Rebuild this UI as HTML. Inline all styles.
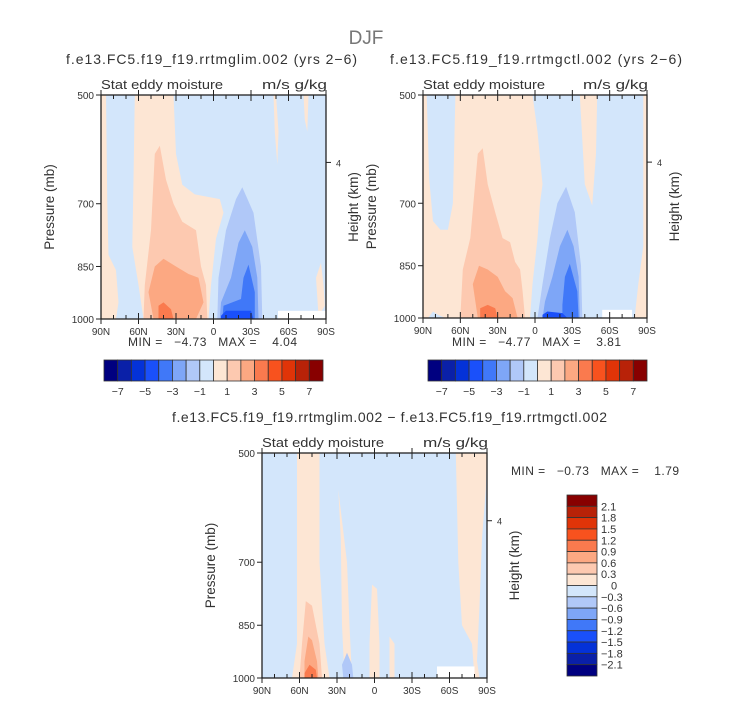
<!DOCTYPE html>
<html><head><meta charset="utf-8"><style>
html,body{margin:0;padding:0;background:#fff;}
svg{display:block;font-family:"Liberation Sans",sans-serif;}
text{fill:#333;white-space:pre;}
</style></head><body>
<svg id="fig" width="733" height="702" viewBox="0 0 733 702" xmlns="http://www.w3.org/2000/svg">
<text x="366" y="44" font-size="19" text-anchor="middle" style="fill:#777">DJF</text>
</svg>
<script>
// ---- data ----
const colors = ["#000080","#0a20a8","#0432d8","#1a50fa","#4078f8","#7ea6f7","#b0c8f8","#d3e6fb","#fde6d4","#fdc9b0","#fca882","#fa7a4e","#f8521e","#e03408","#b82208","#880000"];
const latTicks = [90,60,30,0,-30,-60,-90];
const latLabels = ["90N","60N","30N","0","30S","60S","90S"];
const pTicks = [500,700,850,1000];
const cbLabelsAB = ["\u22127","\u22125","\u22123","\u22121","1","3","5","7"];
const cbLabelsC = ["2.1","1.8","1.5","1.2","0.9","0.6","0.3","0","\u22120.3","\u22120.6","\u22120.9","\u22121.2","\u22121.5","\u22121.8","\u22122.1"];
// shapes: [colorIndex, [[lat,p],...]] ; background index 7
const shapesA = [
 [8,[[90,500],[86,500],[85,700],[84,820],[78,860],[76,950],[78,1000],[90,1000]]],
 [8,[[63,500],[32,500],[30,600],[25,660],[15,680],[-5,690],[-8,720],[-2,780],[2,900],[4,1000],[56,1000],[60,900],[65,800],[64,650]]],
 [8,[[-48,500],[-50,500],[-52,560],[-51,620],[-49,560]]],
 [8,[[-72,500],[-76,500],[-75,560],[-73,540]]],
 [8,[[-82,880],[-86,840],[-88,900],[-89,960],[-84,990]]],
 [9,[[47,600],[43,585],[38,650],[32,700],[25,740],[14,760],[10,850],[6,900],[5,1000],[56,1000],[55,900],[50,760]]],
 [10,[[48,1000],[52,920],[47,850],[40,830],[30,850],[20,870],[12,880],[8,950],[14,1000]]],
 [11,[[44,1000],[44,960],[40,950],[34,970],[32,1000]]],
 [6,[[-23,665],[-18,690],[-10,760],[-4,880],[-3,1000],[-39,1000],[-38,850],[-32,720]]],
 [5,[[-25,760],[-20,790],[-14,880],[-6,950],[-5,1000],[-36,1000],[-35,880],[-31,800]]],
 [4,[[-28,845],[-24,880],[-22,940],[-8,960],[-7,1000],[-33,1000],[-33,920]]],
 [3,[[-10,975],[-6,990],[-6,1000],[-32,1000],[-30,975]]]
];
const shapesB = [
 [8,[[90,500],[87,500],[85,650],[82,740],[76,760],[70,760],[66,700],[64,500],[2,500],[-2,560],[-6,660],[-4,700],[-2,780],[2,900],[4,1000],[90,1000]]],
 [8,[[-36,500],[-50,500],[-49,600],[-46,705],[-40,660]]],
 [8,[[-87,500],[-90,500],[-90,1000],[-80,1000],[-83,900],[-87,800]]],
 [7,[[82,980],[78,990],[72,1000],[86,1000]]],
 [9,[[46,600],[42,590],[38,660],[32,720],[26,780],[20,790],[16,840],[12,860],[10,920],[8,1000],[60,1000],[58,860],[52,780]]],
 [10,[[46,1000],[50,900],[45,850],[38,860],[30,880],[24,920],[18,940],[14,1000]]],
 [11,[[44,1000],[44,970],[38,960],[32,970],[30,1000]]],
 [6,[[-25,665],[-18,700],[-12,780],[-6,900],[-2,1000],[-38,1000],[-37,850],[-32,720]]],
 [5,[[-26,760],[-20,800],[-14,880],[-8,950],[-6,1000],[-36,1000],[-35,880],[-31,800]]],
 [4,[[-28,845],[-24,880],[-22,960],[-22,1000],[-35,1000],[-34,920]]],
 [3,[[-10,980],[-6,990],[-6,1000],[-26,1000],[-22,985]]]
];
const shapesC = [
 [8,[[62,500],[44,500],[44,700],[40,900],[36,1000],[66,1000],[62,900]]],
 [8,[[29,560],[27,650],[26,850],[24,1000],[18,1000],[20,850],[22,700]]],
 [8,[[2,750],[-2,760],[-4,900],[-4,1000],[4,1000],[4,900]]],
 [8,[[-12,880],[-16,900],[-16,1000],[-12,1000]]],
 [8,[[-65,500],[-90,500],[-89,560],[-86,650],[-84,800],[-82,950],[-84,1000],[-80,1000],[-78,900],[-70,850],[-67,700]]],
 [9,[[55,789],[50,800],[44,900],[42,1000],[60,1000],[58,900]]],
 [10,[[53,880],[50,890],[46,950],[45,1000],[56,1000],[56,950]]],
 [11,[[52,960],[47,975],[46,1000],[56,1000],[56,985]]],
 [6,[[22,925],[26,960],[25,1000],[17,1000],[18,960]]]
];
const mm = ["MIN =   \u22124.73   MAX =    4.04","MIN =   \u22124.77   MAX =    3.81","MIN =   \u22120.73   MAX =    1.79"];
// ---- drawing ----
const NS="http://www.w3.org/2000/svg";
const svg=document.getElementById('fig');
function mk(tag,attrs,parent){const e=document.createElementNS(NS,tag);for(const k in attrs)e.setAttribute(k,attrs[k]);(parent||svg).appendChild(e);return e;}
function panel(x0,y0,w,h,shapes,title,tag,whiteBox,titleX,titleW){
  const g=mk('g',{});
  
  
  const X=lat=>x0+(90-lat)/180*w;
  const Y=p=>y0+Math.log(p/500)/Math.log(2)*h;
  const bg=mk('rect',{x:x0,y:y0,width:w,height:h,fill:colors[7]},g);
  
  
  shapes.forEach(s=>{
    const pts=s[1].map(q=>X(q[0]).toFixed(1)+','+Y(q[1]).toFixed(1)).join(' ');
    const pl=mk('polygon',{points:pts,fill:colors[s[0]]},g);
    
    
  });
  const wb=mk('rect',{x:X(whiteBox[0]),y:Y(whiteBox[1]),width:X(whiteBox[2])-X(whiteBox[0]),height:y0+h-Y(whiteBox[1]),fill:'#fff'},g);
  
  
  mk('rect',{x:x0,y:y0,width:w,height:h,fill:'none',stroke:'#222','stroke-width':1.3},g);
  for(let lat=90;lat>=-90;lat-=10){
    const major=lat%30===0;const x=X(lat);
    mk('line',{x1:x,x2:x,y1:y0+h,y2:y0+h-(major?6:4),stroke:'#222'},g);
    mk('line',{x1:x,x2:x,y1:y0,y2:y0+(major?6:4),stroke:'#222'},g);
    if(major){mk('line',{x1:x,x2:x,y1:y0+h,y2:y0+h+5,stroke:'#222'},g);mk('line',{x1:x,x2:x,y1:y0,y2:y0-5,stroke:'#222'},g);}
  }
  latTicks.forEach((l,i)=>{const t=mk('text',{x:X(l),y:y0+h+16,'font-size':10,'text-anchor':'middle'},g);t.textContent=latLabels[i];
    
    });
  pTicks.forEach(p=>{const y=Y(p);mk('line',{x1:x0-5,x2:x0,y1:y,y2:y,stroke:'#222'},g);
    const t=mk('text',{x:x0-7,y:y+4,'font-size':10,'text-anchor':'end'},g);t.textContent=p;
    
    });
  const y4=Y(616);mk('line',{x1:x0+w,x2:x0+w+5,y1:y4,y2:y4,stroke:'#222'},g);
  const t4=mk('text',{x:x0+w+10,y:y4+4,'font-size':9},g);t4.textContent='4';
  const yl=mk('text',{transform:`translate(${x0-47},${y0+h/2}) rotate(-90)`,'font-size':13.5,'text-anchor':'middle'},g);yl.textContent='Pressure (mb)';
  
  
  const yr=mk('text',{transform:`translate(${x0+w+32},${y0+h/2}) rotate(-90)`,'font-size':13.5,'text-anchor':'middle'},g);yr.textContent='Height (km)';
  
  
  const st=mk('text',{x:x0,y:y0-6,'font-size':13,textLength:122,lengthAdjust:'spacingAndGlyphs'},g);st.textContent='Stat eddy moisture';
  
  
  const un=mk('text',{x:x0+w-64,y:y0-6,'font-size':13,textLength:65,lengthAdjust:'spacingAndGlyphs'},g);un.textContent='m/s g/kg';
  
  
  const tt=mk('text',{x:titleX,y:y0-31,'font-size':14,textLength:titleW,lengthAdjust:'spacing'},g);tt.textContent=title;
  
  
}
function hbar(x0,y0,w,h,mmText,mmx){
  const g=mk('g',{});
  
  
  const bw=w/16;
  colors.forEach((c,i)=>mk('rect',{x:x0+i*bw,y:y0,width:bw,height:h,fill:c,stroke:'#333','stroke-width':0.8},g));
  cbLabelsAB.forEach((l,i)=>{const t=mk('text',{x:x0+(2*i+1)*bw,y:y0+h+14,'font-size':10.5,'text-anchor':'middle'},g);t.textContent=l;});
  const m=mk('text',{x:mmx,y:y0-14,'font-size':12,textLength:169,lengthAdjust:'spacing'},g);m.textContent=mmText;
  
  
}
panel(101,95,225,224,shapesA,'f.e13.FC5.f19_f19.rrtmglim.002 (yrs 2\u22126)','lim',[-51.6,975,-90],66,291);
panel(423,95,224,223,shapesB,'f.e13.FC5.f19_f19.rrtmgctl.002 (yrs 2\u22126)','ctl',[-54,975,-78],390,292);
panel(262,453,225,225,shapesC,'f.e13.FC5.f19_f19.rrtmglim.002 \u2212 f.e13.FC5.f19_f19.rrtmgctl.002','diff',[-50,965,-80],172,435);
hbar(104,360,219,21,mm[0],128);
hbar(428,360,219,21,mm[1],452);
// vertical colorbar
(function(){
  const g=mk('g',{});
  
  
  const x0=567,y0=495,w=30,h=181,bh=h/16;
  colors.slice().reverse().forEach((c,i)=>mk('rect',{x:x0,y:y0+i*bh,width:w,height:bh,fill:c,stroke:'#333','stroke-width':0.8},g));
  cbLabelsC.forEach((l,i)=>{const t=mk('text',{x:x0+w+(l==="0"?14:4),y:y0+(i+1)*bh+4,'font-size':11},g);t.textContent=l;});
  const m=mk('text',{x:511,y:475,'font-size':12,textLength:168,lengthAdjust:'spacing'},g);m.textContent=mm[2];
  
  
})();
</script>
</body></html>
